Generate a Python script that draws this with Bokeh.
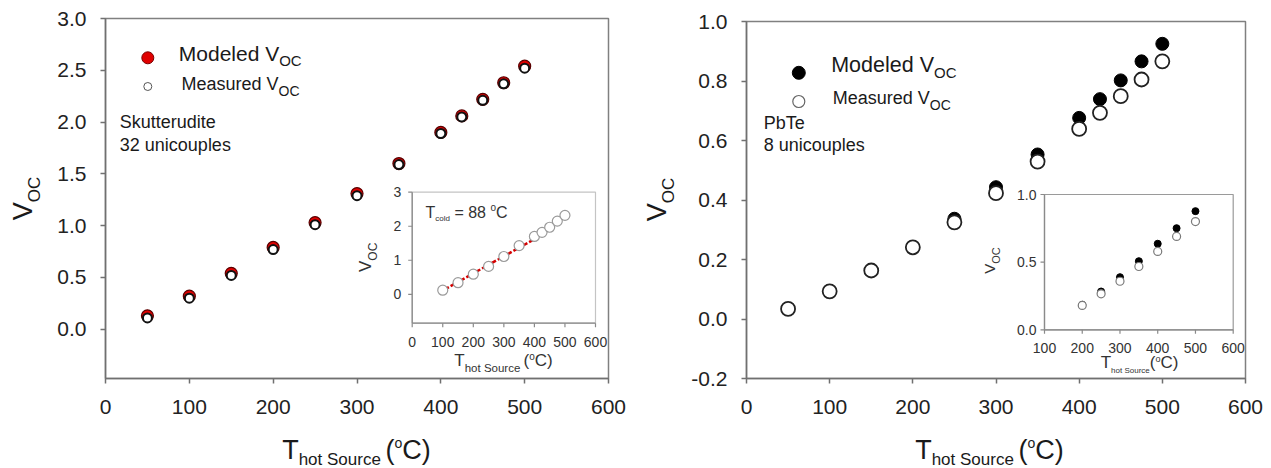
from bokeh.plotting import figure
from bokeh.models import Range1d, FixedTicker, PrintfTickFormatter, Label, ColumnDataSource
from bokeh.layouts import row, column
from bokeh.core.properties import value
from bokeh.embed import file_html
from bokeh.resources import INLINE

FONT = "Liberation Sans"

# ---------------- data ----------------
# Left panel: Skutterudite, 32 unicouples
sk_T = [50, 100, 150, 200, 250, 300, 350, 400, 425, 450, 475, 500]
sk_modeled = [0.13, 0.32, 0.54, 0.79, 1.03, 1.31, 1.60, 1.90, 2.06, 2.22, 2.38, 2.54]
sk_measured = [0.11, 0.30, 0.52, 0.77, 1.01, 1.29, 1.59, 1.89, 2.05, 2.21, 2.37, 2.52]
# Left inset (T_cold = 88 C)
sk_in_T = [100, 150, 200, 250, 300, 350, 400, 425, 450, 475, 500]
sk_in_measured = [0.12, 0.34, 0.59, 0.82, 1.11, 1.43, 1.70, 1.82, 1.97, 2.15, 2.32]
sk_in_fit_T = [100, 400]
sk_in_fit_V = [0.11, 1.62]

# Right panel: PbTe, 8 unicouples
pb_T = [50, 100, 150, 200, 250, 300, 350, 400, 425, 450, 475, 500]
pb_measured = [0.034, 0.093, 0.163, 0.241, 0.325, 0.423, 0.529, 0.639, 0.693, 0.749, 0.805, 0.866]
pb_mod_T = [250, 300, 350, 400, 425, 450, 475, 500]
pb_modeled = [0.337, 0.443, 0.553, 0.676, 0.739, 0.802, 0.866, 0.925]
# Right inset
pb_in_T = [200, 250, 300, 350, 400, 450, 500]
pb_in_measured = [0.18, 0.266, 0.359, 0.468, 0.579, 0.69, 0.80]
pb_in_modeled = [0.185, 0.283, 0.389, 0.507, 0.636, 0.751, 0.877]

# tick labels
main_xticks = [0, 100, 200, 300, 400, 500, 600]
sk_yticks = [0.0, 0.5, 1.0, 1.5, 2.0, 2.5, 3.0]
pb_yticks = [-0.2, 0.0, 0.2, 0.4, 0.6, 0.8, 1.0]
sk_in_xticks = [0, 100, 200, 300, 400, 500, 600]
sk_in_yticks = [0, 1, 2, 3]
pb_in_xticks = [100, 200, 300, 400, 500, 600]
pb_in_yticks = [0.0, 0.5, 1.0]

# ---------------- helpers ----------------
CW = {" ": 278, "(": 333, ")": 333, "=": 584, ".": 278, "-": 333,
      "C": 722, "M": 833, "O": 778, "S": 667, "T": 611, "V": 667, "P": 667,
      "a": 556, "b": 556, "c": 500, "d": 556, "e": 556, "h": 556, "i": 222,
      "k": 500, "l": 222, "n": 556, "o": 556, "p": 556, "r": 333, "s": 500,
      "t": 278, "u": 556}
K = 0.4  # observed baseline offset of Label text, in em


def tw(s, size):
    return size * sum(CW.get(c, 556) for c in s) / 1000.0


class Panel:
    """maps page pixel positions to the data space of a figure's frame"""

    def __init__(self, fl, ft, fr, fb, xr, yr):
        self.fl, self.ft, self.fr, self.fb = fl, ft, fr, fb
        self.xr, self.yr = xr, yr

    def fx(self, px):
        return (px - self.fl) / (self.fr - self.fl)

    def fy(self, py):
        return (self.fb - py) / (self.fb - self.ft)

    def data(self, px, py):
        x = self.xr[0] + self.fx(px) * (self.xr[1] - self.xr[0])
        y = self.yr[0] + self.fy(py) * (self.yr[1] - self.yr[0])
        return x, y

    def sub_x(self, v0, v1, p0, p1):
        a, b = self.fx(p0), self.fx(p1)
        span = (v1 - v0) / (b - a)
        s = v0 - a * span
        return Range1d(s, s + span)

    def sub_y(self, v0, v1, p0, p1):
        a, b = self.fy(p0), self.fy(p1)
        span = (v1 - v0) / (b - a)
        s = v0 - a * span
        return Range1d(s, s + span)


def rich(p, P, pieces, px, py, align="left", angle=0.0, color="#1a1a1a"):
    total = sum(tw(t, s) for t, s, _ in pieces)
    pos = -total / 2 if align == "center" else 0.0
    for t, s, d in pieces:
        lead = len(t) - len(t.lstrip(" "))
        txt = t.strip(" ")
        start = pos + tw(" " * lead, s)
        if angle == 0:
            X, Y = px + start, py - d - K * s
        else:
            X, Y = px - d - K * s, py - start
        x, y = P.data(X, Y)
        p.add_layout(Label(x=x, y=y, text=txt, text_font=FONT,
                           text_font_size=f"{s}px", text_color=color,
                           text_align="left", text_baseline="alphabetic",
                           angle=angle))
        pos += tw(t, s)


def text_fig(fig_box, frame_box):
    x0, y0, x1, y1 = fig_box
    fl, ft, fr, fb = frame_box
    W, H = fr - fl, fb - ft
    f = figure(frame_width=W, frame_height=H, x_range=Range1d(0, W), y_range=Range1d(0, H),
               min_border_left=fl - x0, min_border_right=x1 - fr,
               min_border_top=ft - y0, min_border_bottom=y1 - fb,
               toolbar_location=None, output_backend="svg",
               x_axis_location=None, y_axis_location=None)
    f.xgrid.visible = False
    f.ygrid.visible = False
    f.outline_line_color = None
    f.background_fill_color = "white"
    f.border_fill_color = "white"
    return f, Panel(fl, ft, fr, fb, (0, W), (0, H))


def make_fig(P, fig_left, fig_top, fig_right, fig_bottom, yticks):
    p = figure(frame_width=int(round(P.fr - P.fl)), frame_height=int(round(P.fb - P.ft)),
               x_range=Range1d(*P.xr), y_range=Range1d(*P.yr),
               min_border_left=int(P.fl - fig_left), min_border_right=int(fig_right - P.fr),
               min_border_top=int(P.ft - fig_top), min_border_bottom=int(fig_bottom - P.fb),
               toolbar_location=None, output_backend="svg")
    p.grid.visible = False
    p.background_fill_color = "white"
    p.border_fill_color = "white"
    p.outline_line_color = "#808080"
    p.outline_line_width = 1.5
    p.xaxis.ticker = FixedTicker(ticks=main_xticks)
    p.xaxis.formatter = PrintfTickFormatter(format="%d")
    p.yaxis.ticker = FixedTicker(ticks=yticks)
    p.yaxis.formatter = PrintfTickFormatter(format="%.1f")
    for ax in (p.xaxis[0], p.yaxis[0]):
        ax.axis_line_color = "#707070"
        ax.axis_line_width = 1.5
        ax.major_tick_line_color = "#707070"
        ax.major_tick_line_width = 1.5
        ax.major_tick_out = 5
        ax.major_tick_in = 0
        ax.minor_tick_out = 0
        ax.minor_tick_in = 0
        ax.major_label_text_font = FONT
        ax.major_label_text_font_size = "21px"
        ax.major_label_text_color = "#222222"
    p.xaxis.major_label_standoff = 16
    p.yaxis.major_label_standoff = 14
    return p


def inset(p, P, box, xr, yr, xticks, yticks, yfmt, xoff, yoff, frame_color):
    L, T, R, B = box
    p.extra_x_ranges["ix"] = P.sub_x(xr[0], xr[1], L, R)
    p.extra_y_ranges["iy"] = P.sub_y(yr[0], yr[1], B, T)
    kw = dict(x_range_name="ix", y_range_name="iy")
    p.quad(left=[xr[0]], right=[xr[1]], bottom=[yr[0]], top=[yr[1]],
           fill_color="white", line_color=frame_color, line_width=1.2, **kw)
    p.segment(x0=[xr[0], xr[0]], y0=[yr[0], yr[0]], x1=[xr[0], xr[1]], y1=[yr[1], yr[0]],
              line_color="#8a8a8a", line_width=1.3, **kw)
    dxp = (xr[1] - xr[0]) / (R - L)
    dyp = (yr[1] - yr[0]) / (B - T)
    p.segment(x0=xticks, x1=xticks, y0=[yr[0]] * len(xticks),
              y1=[yr[0] - 4 * dyp] * len(xticks), line_color="#8a8a8a", line_width=1.2, **kw)
    p.segment(x0=[xr[0]] * len(yticks), x1=[xr[0] - 4 * dxp] * len(yticks),
              y0=yticks, y1=yticks, line_color="#8a8a8a", line_width=1.2, **kw)
    xs = ColumnDataSource(dict(x=xticks, y=[yr[0]] * len(xticks), t=[str(v) for v in xticks]))
    p.text(x="x", y="y", text="t", source=xs, text_font=value(FONT), text_font_size="14px",
           text_color="#333333", text_align="center", text_baseline="middle",
           y_offset=yoff, **kw)
    ys = ColumnDataSource(dict(x=[xr[0]] * len(yticks), y=yticks, t=[yfmt % v for v in yticks]))
    p.text(x="x", y="y", text="t", source=ys, text_font=value(FONT), text_font_size="14px",
           text_color="#333333", text_align="right", text_baseline="middle",
           x_offset=xoff, **kw)
    return kw


XT = [("T", 27, 0), ("hot Source ", 17, -6), ("(", 27, 0), ("o", 14, 12), ("C)", 27, 0)]
YT = [("V", 27, 0), ("OC", 17, -8)]
RAD90 = 1.5707963

# ================= left panel =================
PL = Panel(105, 18, 608, 378, (0, 600), (-0.475, 3.0))
p1 = make_fig(PL, 48, 0, 640, 432, sk_yticks)

p1.scatter(sk_T, sk_modeled, size=12, fill_color="#e00000", line_color="#5a0000", line_width=1.2)
p1.scatter(sk_T, sk_measured, size=9, fill_color="white", line_color="#111111", line_width=2)

lx, ly = PL.data(147.3, 57.3)
p1.scatter([lx], [ly], size=12, fill_color="#e00000", line_color="#7a0000", line_width=1)
lx, ly = PL.data(147.3, 86)
p1.scatter([lx], [ly], size=8, fill_color="white", line_color="#555555", line_width=1)
rich(p1, PL, [("Modeled V", 21, 0), ("OC", 15, -5)], 178.3, 61)
rich(p1, PL, [("Measured V", 18, 0), ("OC", 14, -5)], 181, 90.7)
rich(p1, PL, [("Skutterudite", 18, 0)], 119.3, 128.3)
rich(p1, PL, [("32 unicouples", 18, 0)], 119.3, 151.7)

kw = inset(p1, PL, (411.7, 191.7, 595, 322.7), (0, 600), (-0.85, 3.0),
           sk_in_xticks, sk_in_yticks, "%d", -11, 19, "#c4c4c4")
p1.line(sk_in_fit_T, sk_in_fit_V, line_color="#d40000", line_width=2.5, line_dash="7 2", **kw)
p1.scatter(sk_in_T, sk_in_measured, size=10, fill_color="white", line_color="#9a9a9a",
           line_width=1.2, **kw)
rich(p1, PL, [("T", 16, 0), ("cold", 8, -3), (" = 88 ", 16, 0), ("o", 10, 7), ("C", 16, 0)],
     425, 218.3, color="#333333")
rich(p1, PL, [("V", 17, 0), ("OC", 12, -5)], 372, 271.5, angle=RAD90, color="#333333")
rich(p1, PL, [("T", 17, 0), ("hot Source ", 11.5, -5), ("(", 17, 0), ("o", 10, 7), ("C)", 17, 0)],
     503, 366.7, align="center", color="#333333")

ytL, PyL = text_fig((0, 0, 48, 468), (0, 18, 48, 378))
rich(ytL, PyL, YT, 33, 198, align="center", angle=RAD90)
xtL, PxL = text_fig((48, 432, 640, 468), (105, 432, 608, 468))
rich(xtL, PxL, XT, 356, 460, align="center")

# ================= right panel =================
PR = Panel(746, 21, 1245, 378, (0, 600), (-0.2, 1.0))
p2 = make_fig(PR, 682, 0, 1271, 432, pb_yticks)

p2.scatter(pb_mod_T, pb_modeled, size=13, fill_color="black", line_color="black", line_width=1)
p2.scatter(pb_T, pb_measured, size=14, fill_color="white", line_color="#222222", line_width=1.8)

lx, ly = PR.data(798.3, 72.3)
p2.scatter([lx], [ly], size=13, fill_color="black", line_color="black")
lx, ly = PR.data(798.3, 101)
p2.scatter([lx], [ly], size=12, fill_color="white", line_color="#666666", line_width=1.2)
rich(p2, PR, [("Modeled V", 21.5, 0), ("OC", 15, -5)], 830.7, 73.3)
rich(p2, PR, [("Measured V", 18, 0), ("OC", 14, -5)], 832.3, 105)
rich(p2, PR, [("PbTe", 18, 0)], 763.3, 129.3)
rich(p2, PR, [("8 unicouples", 18, 0)], 763.3, 151.7)

kw = inset(p2, PR, (1044, 194, 1232.7, 329.3), (100, 600), (0.0, 1.0),
           pb_in_xticks, pb_in_yticks, "%.1f", -8, 18, "#9a9a9a")
p2.scatter(pb_in_T, pb_in_modeled, size=7, fill_color="black", line_color="black", **kw)
p2.scatter(pb_in_T, pb_in_measured, size=8, fill_color="white", line_color="#7a7a7a",
           line_width=1.2, **kw)
rich(p2, PR, [("V", 15, 0), ("OC", 11, -5)], 995, 273.3, angle=RAD90, color="#333333")
rich(p2, PR, [("T", 17, 0), ("hot Source", 8, -4), ("(", 17, 0), ("o", 9, 7), ("C)", 17, 0)],
     1139, 369, align="center", color="#333333")

ytR, PyR = text_fig((640, 0, 682, 468), (640, 21, 682, 378))
rich(ytR, PyR, YT, 667, 199, align="center", angle=RAD90)
xtR, PxR = text_fig((682, 432, 1271, 468), (746, 432, 1245, 468))
rich(xtR, PxR, XT, 989, 460, align="center")

layout = row(row(ytL, column(p1, xtL)), row(ytR, column(p2, xtR)))
open("out.html", "w").write(file_html(layout, INLINE))
